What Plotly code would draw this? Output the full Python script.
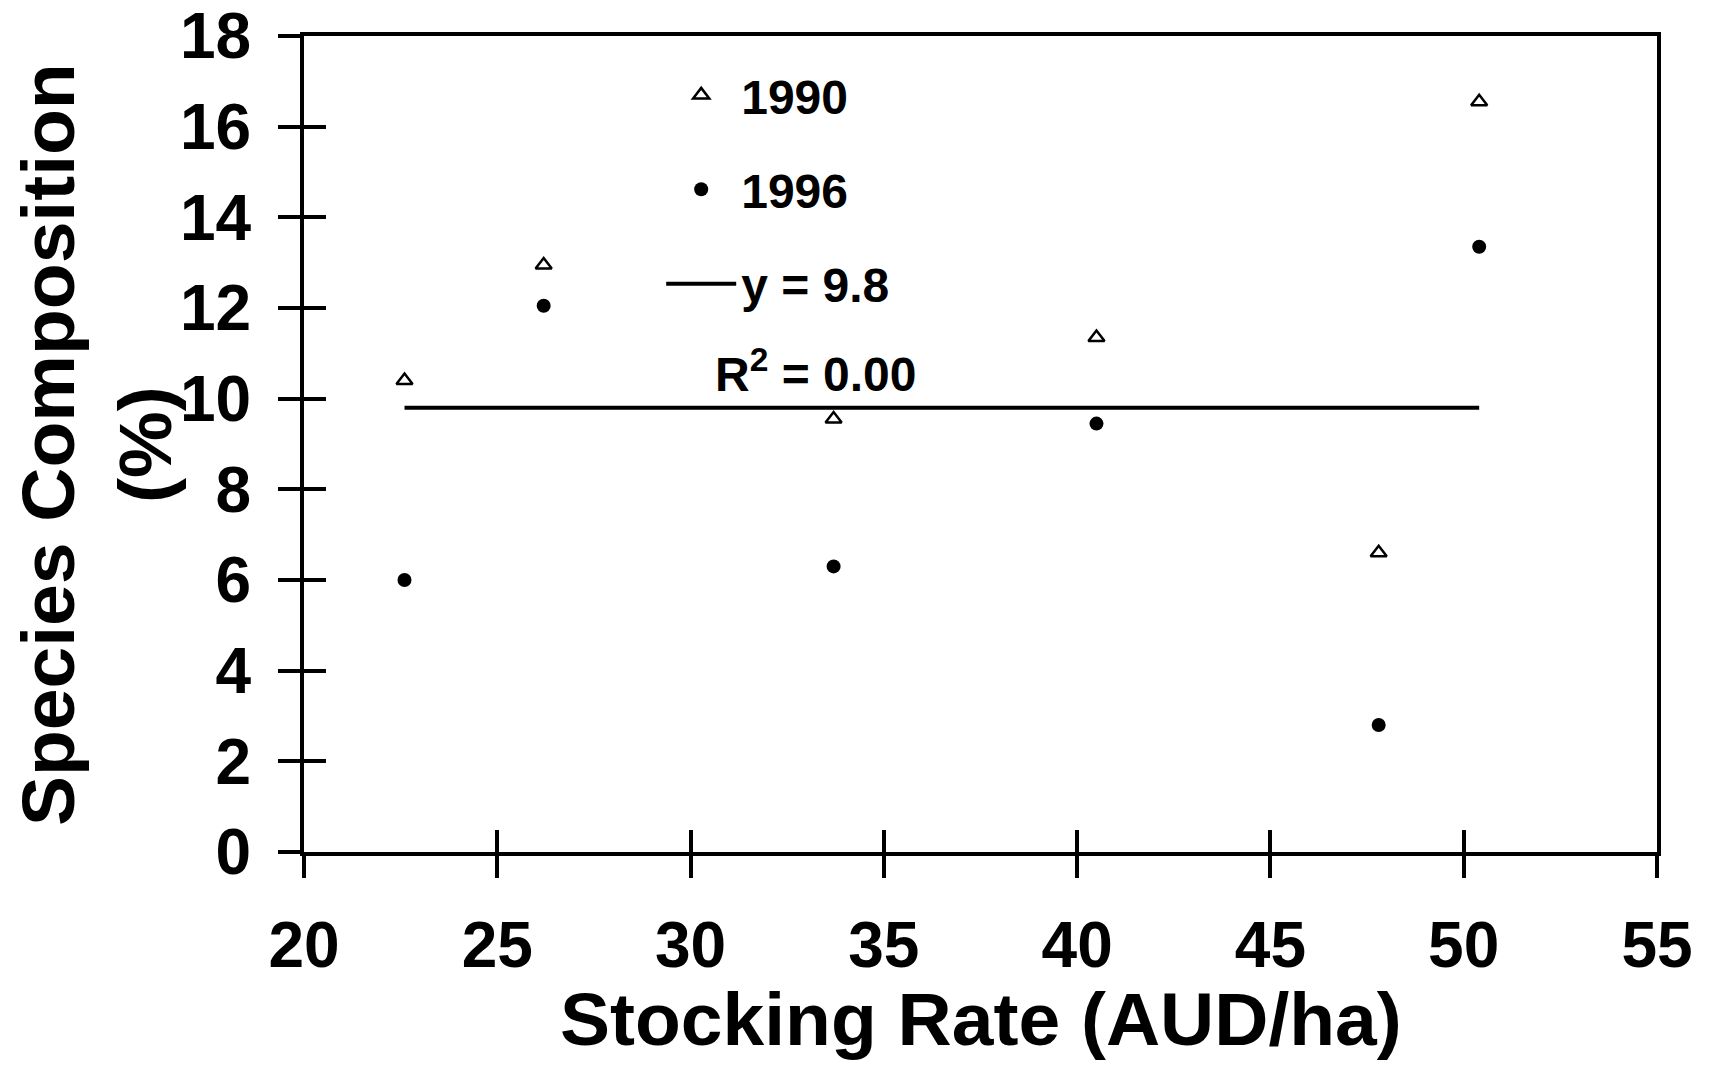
import plotly.graph_objects as go

# Data
stocking_rate = [22.6, 26.2, 33.7, 40.5, 47.8, 50.4]
comp_1990 = [10.4, 12.95, 9.55, 11.35, 6.6, 16.55]
comp_1996 = [6.0, 12.05, 6.3, 9.45, 2.8, 13.35]
trend_value = 9.8
trend_label = "y = 9.8"
r2_label = "R<sup>2</sup> = 0.00"
x_ticks = [20, 25, 30, 35, 40, 45, 50, 55]
y_ticks = [0, 2, 4, 6, 8, 10, 12, 14, 16, 18]

FONT = "Liberation Sans"
fig = go.Figure()

fig.add_trace(go.Scatter(
    x=stocking_rate, y=comp_1990, mode="markers", name="1990",
    marker=dict(symbol="triangle-up-open", size=14, color="black", line=dict(width=2.5, color="black")),
    legendgroup="a",
))
fig.add_trace(go.Scatter(
    x=stocking_rate, y=comp_1996, mode="markers", name="1996",
    marker=dict(symbol="circle", size=14, color="black"),
    legendgroup="b",
))
fig.add_trace(go.Scatter(
    x=[min(stocking_rate), max(stocking_rate)], y=[trend_value, trend_value],
    mode="lines", name=trend_label, line=dict(color="black", width=4),
    legendgroup="c",
))
# invisible trace on the overlay axes (inside half of the crossing ticks)
fig.add_trace(go.Scatter(x=[20], y=[0], xaxis="x2", yaxis="y2", mode="markers",
                         marker=dict(opacity=0), showlegend=False, hoverinfo="skip"))

axis_common = dict(showgrid=False, zeroline=False, color="black", automargin=False)
TICKFONT = dict(size=64, family=FONT, weight="bold")
fig.update_layout(
    width=1704, height=1067,
    paper_bgcolor="white", plot_bgcolor="white",
    margin=dict(l=296, r=55, t=28, b=223),
    font=dict(family=FONT, color="black", size=48, weight="bold"),
    xaxis=dict(range=[20, 55], tickvals=x_ticks, ticks="outside", ticklen=22, tickwidth=4,
               showline=True, linewidth=4, linecolor="black", mirror=True,
               tickfont=TICKFONT, ticklabelstandoff=12, ticklabeloverflow="allow",
               **axis_common),
    yaxis=dict(range=[0, 18], tickvals=y_ticks, ticks="outside", ticklen=22, tickwidth=4,
               showline=True, linewidth=4, linecolor="black", mirror=True,
               tickfont=TICKFONT, ticklabelstandoff=14, ticklabeloverflow="allow",
               **axis_common),
    xaxis2=dict(range=[20, 55], tickvals=x_ticks, ticks="inside", ticklen=22, tickwidth=4,
                overlaying="x", anchor="y", showticklabels=False, showline=False, **axis_common),
    yaxis2=dict(range=[0, 18], tickvals=y_ticks, ticks="inside", ticklen=22, tickwidth=4,
                overlaying="y", anchor="x", showticklabels=False, showline=False, **axis_common),
    legend=dict(x=0.264, y=0.974, xanchor="left", yanchor="top", bgcolor="rgba(0,0,0,0)",
                font=dict(size=48, family=FONT, weight="bold"), itemwidth=70,
                traceorder="grouped", tracegroupgap=29),
    showlegend=True,
)

fig.add_annotation(text=r2_label, xref="paper", yref="paper", x=0.378, y=0.590,
                   xanchor="center", yanchor="middle", showarrow=False,
                   font=dict(size=48, family=FONT, weight="bold"))
fig.add_annotation(text="Stocking Rate (AUD/ha)", xref="paper", yref="paper", x=0.5, y=-0.2047,
                   xanchor="center", yanchor="middle", showarrow=False,
                   font=dict(size=75, family=FONT, weight="bold"))
fig.add_annotation(text="Species Composition<br>(%)", xref="paper", yref="paper", x=-0.153, y=0.5,
                   xanchor="center", yanchor="middle", showarrow=False, textangle=-90,
                   font=dict(size=75, family=FONT, weight="bold"))

fig.write_html("out.html")
